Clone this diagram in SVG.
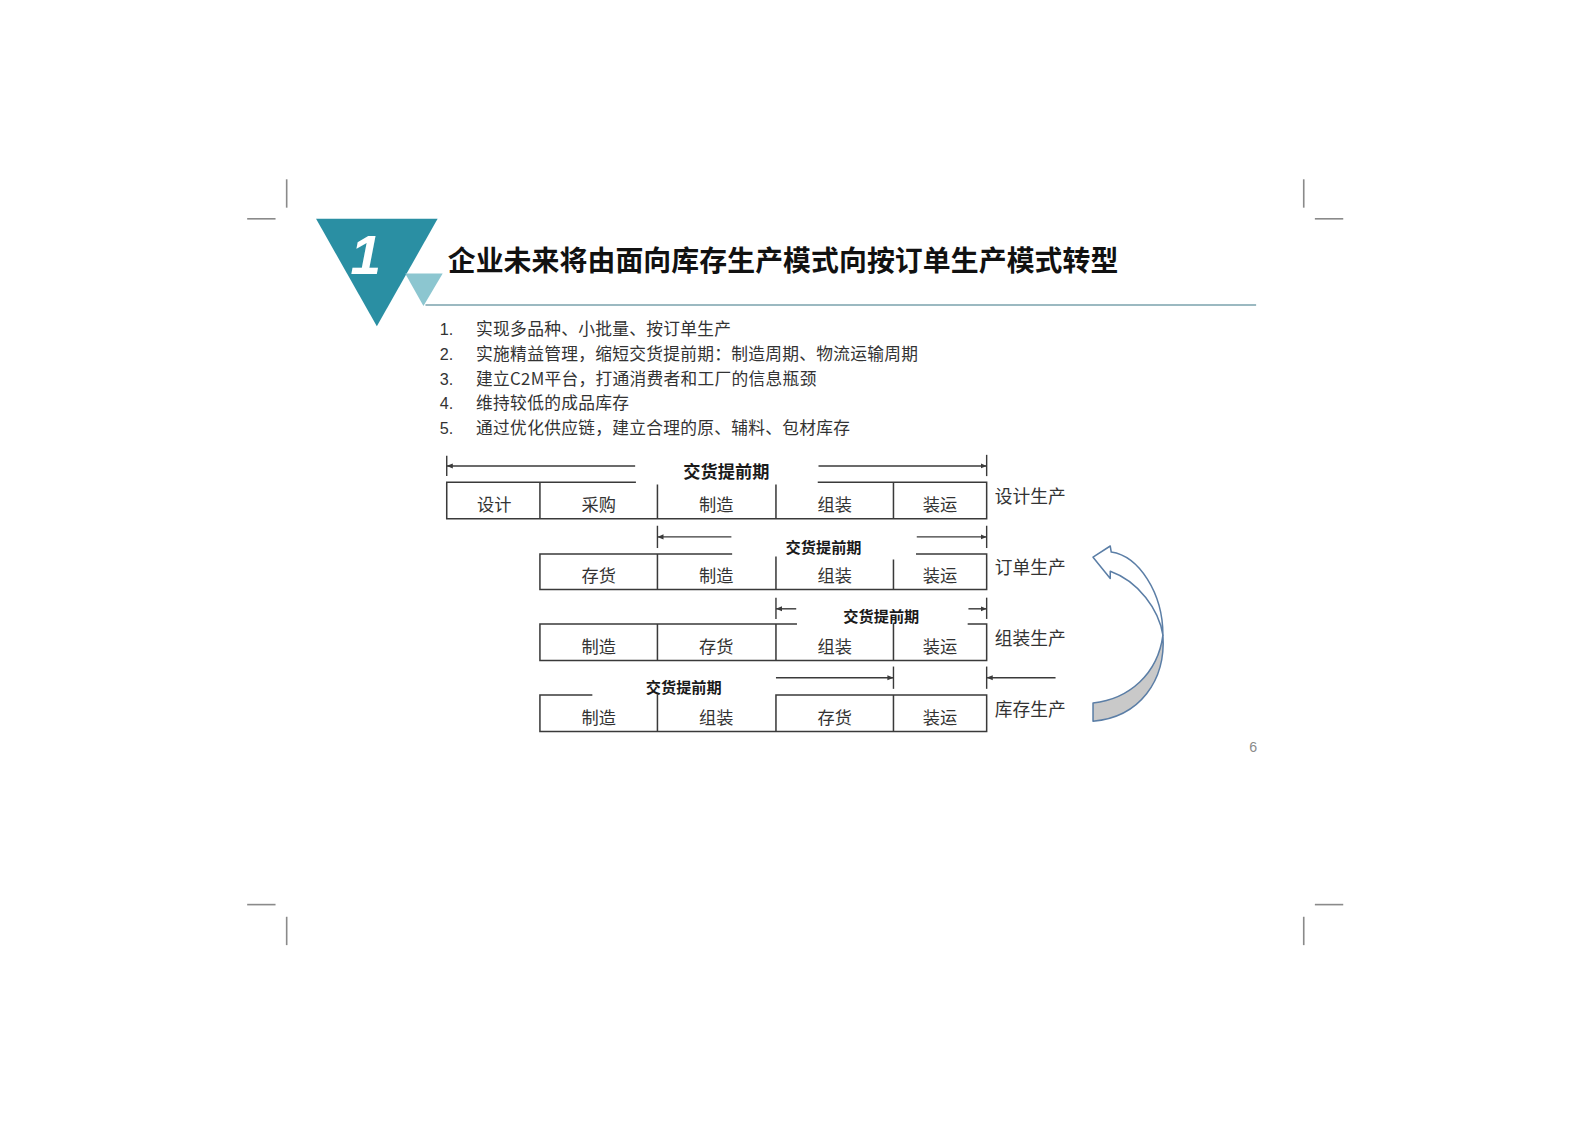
<svg xmlns="http://www.w3.org/2000/svg" width="1587" height="1122" viewBox="0 0 1587 1122">
<style>
.crop{stroke:#8a8a8a;stroke-width:1.6;fill:none}
.tl{stroke:#3a3a3a;stroke-width:1.5;fill:none;stroke-linecap:square}
.cjk{font-family:"Noto Sans CJK SC","Liberation Sans",sans-serif}
.cell{font-size:17px;fill:#333;text-anchor:middle}
.side{font-size:17.5px;fill:#333}
.lead{font-weight:bold;fill:#1a1a1a;text-anchor:middle}
.li{font-size:16.5px;fill:#333;letter-spacing:0.3px}
.num{font-family:"Liberation Sans",Arial,sans-serif;font-size:16px;fill:#333}
.dim{stroke:#3a3a3a;stroke-width:1.4;fill:none}
</style>
<defs>
<marker id="ah" viewBox="0 0 6 6" refX="6" refY="3" markerWidth="6" markerHeight="6" markerUnits="userSpaceOnUse" orient="auto-start-reverse">
<path d="M0,0.5 L6,3 L0,5.5 z" fill="#3a3a3a"/>
</marker>
</defs>
<rect width="1587" height="1122" fill="#ffffff"/>
<g transform="scale(1.013)">
<g id="crop-marks">
<line class="crop" x1="283" y1="177" x2="283" y2="205"/>
<line class="crop" x1="244" y1="216" x2="272" y2="216"/>
<line class="crop" x1="1287" y1="177" x2="1287" y2="205"/>
<line class="crop" x1="1298" y1="216" x2="1326" y2="216"/>
<line class="crop" x1="244" y1="893" x2="272" y2="893"/>
<line class="crop" x1="283" y1="905" x2="283" y2="933"/>
<line class="crop" x1="1298" y1="893" x2="1326" y2="893"/>
<line class="crop" x1="1287" y1="905" x2="1287" y2="933"/>
</g>
<g id="header">
<polygon points="312,216 432,216 372,322" fill="#2a8fa3"/>
<polygon points="400,270 437,270 418,302" fill="#8cc6d0"/>
<text x="346" y="270" font-family="'Liberation Sans',Arial,sans-serif" font-size="54" font-weight="bold" font-style="italic" fill="#ffffff">1</text>
<text x="442" y="268" class="cjk" font-size="27.5" font-weight="bold" fill="#111" letter-spacing="0.1">企业未来将由面向库存生产模式向按订单生产模式转型</text>
<line x1="420" y1="301" x2="1240" y2="301" stroke="#7aa2ac" stroke-width="1.5"/>
</g>
<g id="list">
<text class="num" x="434" y="331">1.</text>
<text class="num" x="434" y="355">2.</text>
<text class="num" x="434" y="380">3.</text>
<text class="num" x="434" y="404">4.</text>
<text class="num" x="434" y="428">5.</text>
<text class="cjk li" x="470" y="331">实现多品种、小批量、按订单生产</text>
<text class="cjk li" x="470" y="355">实施精益管理，缩短交货提前期：制造周期、物流运输周期</text>
<text class="cjk li" x="470" y="380">建立C2M平台，打通消费者和工厂的信息瓶颈</text>
<text class="cjk li" x="470" y="404">维持较低的成品库存</text>
<text class="cjk li" x="470" y="428">通过优化供应链，建立合理的原、辅料、包材库存</text>
</g>
<g id="row-design">
<path class="tl" d="M441,476 H627 M808,476 H974 M441,512 H974 M441,476 V512 M974,476 V512 M533,476 V512 M649,479 V512 M766,479 V512 M882,476 V512"/>
<text class="cjk cell" x="488" y="504.5">设计</text>
<text class="cjk cell" x="591" y="504.5">采购</text>
<text class="cjk cell" x="707" y="504.5">制造</text>
<text class="cjk cell" x="824" y="504.5">组装</text>
<text class="cjk cell" x="928" y="504.5">装运</text>
<text class="cjk side" x="982" y="496.5">设计生产</text>
</g>
<g id="row-order">
<path class="tl" d="M533,547 H722 M905,547 H974 M533,582 H974 M533,547 V582 M974,547 V582 M649,547 V582 M766,550 V582 M882,553 V582"/>
<text class="cjk cell" x="591" y="575">存货</text>
<text class="cjk cell" x="707" y="575">制造</text>
<text class="cjk cell" x="824" y="575">组装</text>
<text class="cjk cell" x="928" y="575">装运</text>
<text class="cjk side" x="982" y="566.5">订单生产</text>
</g>
<g id="row-assembly">
<path class="tl" d="M533,616 H786 M956,616 H974 M533,652 H974 M533,616 V652 M974,616 V652 M649,616 V652 M766,616 V652 M882,616 V652"/>
<text class="cjk cell" x="591" y="644.5">制造</text>
<text class="cjk cell" x="707" y="644.5">存货</text>
<text class="cjk cell" x="824" y="644.5">组装</text>
<text class="cjk cell" x="928" y="644.5">装运</text>
<text class="cjk side" x="982" y="636.5">组装生产</text>
</g>
<g id="row-stock">
<path class="tl" d="M533,686 H584 M766,686 H974 M533,722 H974 M533,686 V722 M974,686 V722 M649,686 V722 M766,686 V722 M882,686 V722"/>
<text class="cjk cell" x="591" y="714.5">制造</text>
<text class="cjk cell" x="707" y="714.5">组装</text>
<text class="cjk cell" x="824" y="714.5">存货</text>
<text class="cjk cell" x="928" y="714.5">装运</text>
<text class="cjk side" x="982" y="706.5">库存生产</text>
</g>
<g id="lead-time-labels">
<text class="cjk lead" x="717" y="471.5" font-size="17">交货提前期</text>
<text class="cjk lead" x="813" y="545.5" font-size="15">交货提前期</text>
<text class="cjk lead" x="870" y="614.5" font-size="15">交货提前期</text>
<text class="cjk lead" x="675" y="684.5" font-size="15">交货提前期</text>
</g>
<g id="connectors">
<line class="dim" x1="441" y1="450" x2="441" y2="470"/>
<line class="dim" x1="627" y1="460" x2="441" y2="460" marker-end="url(#ah)"/>
<line class="dim" x1="808" y1="460" x2="974" y2="460" marker-end="url(#ah)"/>
<line class="dim" x1="974" y1="449" x2="974" y2="470"/>
<line class="dim" x1="649" y1="519" x2="649" y2="541"/>
<line class="dim" x1="722" y1="530" x2="649" y2="530" marker-end="url(#ah)"/>
<line class="dim" x1="905" y1="530" x2="974" y2="530" marker-end="url(#ah)"/>
<line class="dim" x1="974" y1="519" x2="974" y2="541"/>
<line class="dim" x1="766" y1="590" x2="766" y2="611"/>
<line class="dim" x1="786" y1="601" x2="766" y2="601" marker-end="url(#ah)"/>
<line class="dim" x1="956" y1="601" x2="974" y2="601" marker-end="url(#ah)"/>
<line class="dim" x1="974" y1="590" x2="974" y2="611"/>
<line class="dim" x1="766" y1="669" x2="882" y2="669" marker-end="url(#ah)"/>
<line class="dim" x1="882" y1="658" x2="882" y2="680"/>
<line class="dim" x1="974" y1="658" x2="974" y2="680"/>
<line class="dim" x1="1042" y1="669" x2="974" y2="669" marker-end="url(#ah)"/>
</g>
<g id="cycle-arrow" stroke="#5b7ea6" stroke-width="1.5" stroke-linejoin="round">
<path d="M1148,627 C1151,672 1125,708 1079,712 L1079,694 C1115,690 1143,665 1148,627 Z" fill="#c9c9c9"/>
<path d="M1079,550 L1096,539 L1097,545 C1124,549 1148,585 1148,627 C1144,602 1124,574 1096,564 L1096,571 Z" fill="#ffffff"/>
</g>
<text x="1237" y="742" font-family="'Liberation Sans',Arial,sans-serif" font-size="14" fill="#8a8a8a" text-anchor="middle">6</text>
</g>
</svg>
